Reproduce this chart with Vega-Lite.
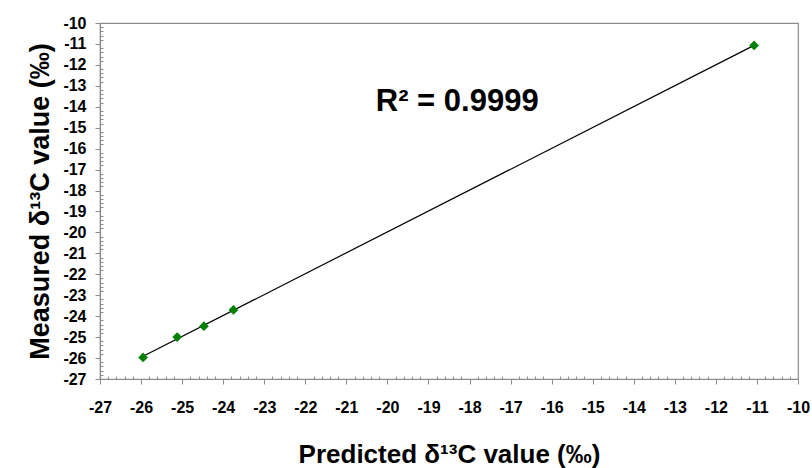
{
  "$schema": "https://vega.github.io/schema/vega-lite/v6.json",
  "autosize": {"type": "none"},
  "padding": {"left": 100, "top": 23, "right": 14, "bottom": 89},
  "width": 698,
  "height": 356,
  "background": "white",
  "config": {
    "view": {"stroke": "#8c8c8c", "strokeWidth": 1.2},
    "font": "Liberation Sans"
  },
  "data": {"values": [
    {"predicted": -25.95, "measured": -25.97},
    {"predicted": -25.12, "measured": -25.0},
    {"predicted": -24.47, "measured": -24.48},
    {"predicted": -23.75, "measured": -23.7},
    {"predicted": -11.07, "measured": -11.07}
  ]},
  "layer": [
    {
      "mark": {"type": "point", "shape": "diamond", "filled": true, "color": "#008000", "size": 95, "opacity": 0},
      "encoding": {
        "x": {
          "field": "predicted", "type": "quantitative",
          "scale": {"domain": [-27, -10], "nice": false, "zero": false},
          "axis": {
            "title": "Predicted δ¹³C value (‰)",
            "titleFont": "Liberation Sans", "titleFontSize": 26, "titleFontWeight": "bold", "titleColor": "black",
            "titlePadding": 26,
            "grid": false,
            "domainColor": "#8c8c8c", "domainWidth": 1.2,
            "tickColor": "#8c8c8c", "tickWidth": 1,
            "tickCount": 200,
            "values": [-27,-26.8,-26.6,-26.4,-26.2,-26,-25.8,-25.6,-25.4,-25.2,-25,-24.8,-24.6,-24.4,-24.2,-24,-23.8,-23.6,-23.4,-23.2,-23,-22.8,-22.6,-22.4,-22.2,-22,-21.8,-21.6,-21.4,-21.2,-21,-20.8,-20.6,-20.4,-20.2,-20,-19.8,-19.6,-19.4,-19.2,-19,-18.8,-18.6,-18.4,-18.2,-18,-17.8,-17.6,-17.4,-17.2,-17,-16.8,-16.6,-16.4,-16.2,-16,-15.8,-15.6,-15.4,-15.2,-15,-14.8,-14.6,-14.4,-14.2,-14,-13.8,-13.6,-13.4,-13.2,-13,-12.8,-12.6,-12.4,-12.2,-12,-11.8,-11.6,-11.4,-11.2,-11,-10.8,-10.6,-10.4,-10.2,-10],
            "tickSize": {"condition": {"test": "abs(datum.value - round(datum.value)) < 0.01", "value": 5}, "value": -3},
            "labelExpr": "abs(datum.value - round(datum.value)) < 0.01 ? '-' + abs(round(datum.value)) : ''",
            "labelFont": "Liberation Sans", "labelFontSize": 16, "labelFontWeight": "bold", "labelColor": "black",
            "labelPadding": 15, "labelOverlap": false, "labelFlush": false
          }
        },
        "y": {
          "field": "measured", "type": "quantitative",
          "scale": {"domain": [-27, -10], "nice": false, "zero": false},
          "axis": {
            "title": "Measured δ¹³C value (‰)",
            "titleFont": "Liberation Sans", "titleFontSize": 27, "titleFontWeight": "bold", "titleColor": "black",
            "titlePadding": 8,
            "grid": false,
            "domainColor": "#8c8c8c", "domainWidth": 1.2,
            "tickColor": "#8c8c8c", "tickWidth": 1,
            "tickCount": 200,
            "values": [-27,-26.8,-26.6,-26.4,-26.2,-26,-25.8,-25.6,-25.4,-25.2,-25,-24.8,-24.6,-24.4,-24.2,-24,-23.8,-23.6,-23.4,-23.2,-23,-22.8,-22.6,-22.4,-22.2,-22,-21.8,-21.6,-21.4,-21.2,-21,-20.8,-20.6,-20.4,-20.2,-20,-19.8,-19.6,-19.4,-19.2,-19,-18.8,-18.6,-18.4,-18.2,-18,-17.8,-17.6,-17.4,-17.2,-17,-16.8,-16.6,-16.4,-16.2,-16,-15.8,-15.6,-15.4,-15.2,-15,-14.8,-14.6,-14.4,-14.2,-14,-13.8,-13.6,-13.4,-13.2,-13,-12.8,-12.6,-12.4,-12.2,-12,-11.8,-11.6,-11.4,-11.2,-11,-10.8,-10.6,-10.4,-10.2,-10],
            "tickSize": {"condition": {"test": "abs(datum.value - round(datum.value)) < 0.01", "value": 5}, "value": -3},
            "labelExpr": "abs(datum.value - round(datum.value)) < 0.01 ? '-' + abs(round(datum.value)) : ''",
            "labelFont": "Liberation Sans", "labelFontSize": 16, "labelFontWeight": "bold", "labelColor": "black",
            "labelPadding": 9, "labelOverlap": false, "labelFlush": false
          }
        }
      }
    },
    {
      "transform": [{"regression": "measured", "on": "predicted"}],
      "mark": {"type": "line", "color": "black", "strokeWidth": 1.2},
      "encoding": {
        "x": {"field": "predicted", "type": "quantitative"},
        "y": {"field": "measured", "type": "quantitative"}
      }
    },
    {
      "mark": {"type": "point", "shape": "diamond", "filled": true, "color": "#008000", "size": 95, "opacity": 1},
      "encoding": {
        "x": {"field": "predicted", "type": "quantitative"},
        "y": {"field": "measured", "type": "quantitative"}
      }
    },
    {
      "data": {"values": [{"label": "R² = 0.9999"}]},
      "mark": {"type": "text", "font": "Liberation Sans", "fontSize": 31, "fontWeight": "bold", "color": "black", "align": "center", "baseline": "alphabetic"},
      "encoding": {
        "text": {"field": "label", "type": "nominal"},
        "x": {"datum": -18.3, "type": "quantitative"},
        "y": {"datum": -14.2, "type": "quantitative"}
      }
    }
  ]
}
